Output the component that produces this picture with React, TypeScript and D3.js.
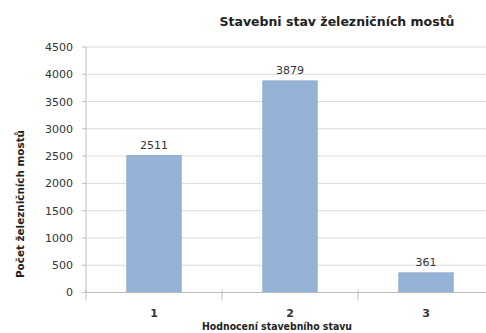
import React from "react";
import * as d3 from "d3";

const categories = ["1", "2", "3"];
const values = [2511, 3879, 361];
const yTicks = [0, 500, 1000, 1500, 2000, 2500, 3000, 3500, 4000, 4500];
const title = "Stavebni stav železničních mostů";
const xTitle = "Hodnocení stavebního stavu";
const yTitle = "Počet železničních mostů";

const W = 486;
const H = 333;
const left = 86;
const right = 494;
const top = 47;
const bottom = 292.5;

export default function App() {
  const x = d3.scaleBand<string>().domain(categories).range([left, right]).paddingInner(0.6).paddingOuter(0.3);
  const y = d3.scaleLinear().domain([0, 4500]).range([bottom, top]);
  const step = x.step();
  const boundaries = d3.range(categories.length + 1).map((i) => left + i * step);
  const font = "'DejaVu Sans', sans-serif";
  return (
    <svg width={W} height={H} style={{ position: "absolute", left: 0, top: 0, background: "#fff" }}>
      <rect x={0} y={0} width={W} height={H} fill="#fff" />
      {yTicks.map((t) => (
        <g key={t}>
          {t > 0 && <line x1={left} x2={W} y1={y(t)} y2={y(t)} stroke="#dcdcdc" strokeWidth={1} />}
          <line x1={left - 4} x2={left} y1={y(t)} y2={y(t)} stroke="#bdbdbd" strokeWidth={1} />
          <text x={73} y={y(t)} dy="0.36em" textAnchor="end" fontFamily={font} fontSize={11} fill="#333">
            {t}
          </text>
        </g>
      ))}
      <line x1={left} x2={left} y1={top} y2={bottom} stroke="#bdbdbd" strokeWidth={1} />
      {categories.map((c, i) => (
        <g key={c}>
          <rect
            x={x(c)!}
            y={y(values[i])}
            width={x.bandwidth()}
            height={bottom - y(values[i])}
            fill="#95b3d7"
            stroke="#8aa6cc"
            strokeWidth={0.8}
          />
          <text x={x(c)! + x.bandwidth() / 2} y={y(values[i]) - 7} textAnchor="middle" fontFamily={font} fontSize={11} fill="#333">
            {values[i]}
          </text>
          <text x={x(c)! + x.bandwidth() / 2} y={317} textAnchor="middle" fontFamily={font} fontSize={11} fontWeight="bold" fill="#333">
            {c}
          </text>
        </g>
      ))}
      <line x1={left} x2={W} y1={bottom} y2={bottom} stroke="#bdbdbd" strokeWidth={1} />
      {boundaries.map((b, i) => (
        <line key={i} x1={b} x2={b} y1={bottom - 3} y2={bottom + 8} stroke="#bdbdbd" strokeWidth={1} />
      ))}
      <text x={337} y={26} textAnchor="middle" fontFamily={font} fontSize={12.5} fontWeight="bold" fill="#222">
        {title}
      </text>
      <text x={277} y={330} textAnchor="middle" fontFamily={font} fontSize={10} fontWeight="bold" fill="#222" textLength={150} lengthAdjust="spacingAndGlyphs">
        {xTitle}
      </text>
      <text transform={`translate(24,204) rotate(-90)`} textAnchor="middle" fontFamily={font} fontSize={10} fontWeight="bold" fill="#222" textLength={148} lengthAdjust="spacingAndGlyphs">
        {yTitle}
      </text>
    </svg>
  );
}
